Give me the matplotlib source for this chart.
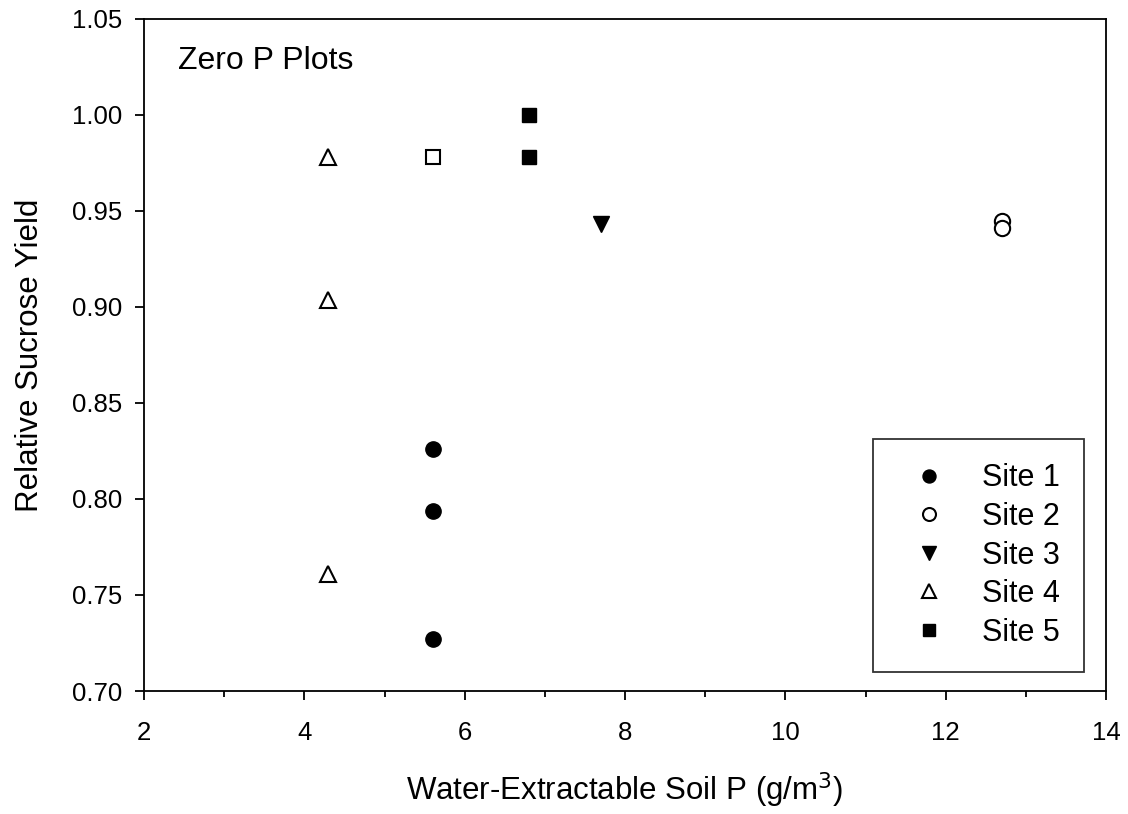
import matplotlib
matplotlib.use("Agg")
import matplotlib.pyplot as plt
from matplotlib.ticker import MultipleLocator, FormatStrFormatter

plt.rcParams['font.family'] = ['Liberation Sans', 'DejaVu Sans']

site1_x = [5.6, 5.6, 5.6]
site1_y = [0.826, 0.794, 0.727]
site2_x = [12.7, 12.7]
site2_y = [0.945, 0.941]
site3_x = [7.7]
site3_y = [0.943]
site4_x = [4.3, 4.3, 4.3]
site4_y = [0.978, 0.9035, 0.761]
site5_x = [6.8, 6.8]
site5_y = [1.000, 0.978]
extra_x = [5.6]
extra_y = [0.978]

fig = plt.figure(figsize=(11.28, 8.14), dpi=100)
ax = fig.add_axes([0.1277, 0.1511, 0.8528, 0.8256])

ms = 11
ax.plot(site1_x, site1_y, 'o', color='black', ms=ms, ls='none', label='Site 1')
ax.plot(site2_x, site2_y, 'o', mfc='white', mec='black', mew=1.5, ms=ms, ls='none', label='Site 2')
ax.plot(site3_x, site3_y, 'v', color='black', ms=ms + 1, ls='none', label='Site 3')
ax.plot(site4_x, site4_y, '^', mfc='white', mec='black', mew=1.5, ms=ms + 1, ls='none', label='Site 4')
ax.plot(site5_x, site5_y, 's', color='black', ms=ms - 0.5, ls='none', label='Site 5')
ax.plot(extra_x, extra_y, 's', mfc='white', mec='black', mew=1.5, ms=ms - 0.5, ls='none')

ax.set_xlim(2, 14)
ax.set_ylim(0.70, 1.05)
ax.xaxis.set_major_locator(MultipleLocator(2))
ax.xaxis.set_minor_locator(MultipleLocator(1))
ax.yaxis.set_major_locator(MultipleLocator(0.05))
ax.yaxis.set_major_formatter(FormatStrFormatter('%.2f'))

for s in ax.spines.values():
    s.set_linewidth(1.3)
ax.tick_params(axis='both', which='major', direction='out', length=6.5, width=1.3,
               labelsize=18.5, top=False, right=False)
ax.tick_params(axis='x', which='major', pad=15)
ax.tick_params(axis='y', which='major', pad=9.5)
ax.tick_params(axis='x', which='minor', direction='out', length=4.3, width=1.3, top=False)

ax.set_xlabel('Water-Extractable Soil P (g/m$^3$)', fontsize=22.5)
ax.set_ylabel('Relative Sucrose Yield', fontsize=22.5)
ax.xaxis.set_label_coords(0.5, -0.1622)
ax.xaxis.label.set_va('baseline')
ax.yaxis.set_label_coords(-0.1102, 0.5)
ax.yaxis.label.set_va('baseline')

ax.text(0.035, 0.937, 'Zero P Plots', transform=ax.transAxes, fontsize=23,
        ha='left', va='center')

leg = ax.legend(loc='upper left', bbox_to_anchor=(0.7578, 0.375), borderaxespad=0,
                fontsize=22, frameon=True, fancybox=False, edgecolor='black',
                handletextpad=0.72, labelspacing=0.28, borderpad=0.8, markerscale=0.85,
                handlelength=2.05)
leg.get_frame().set_linewidth(1.3)

fig.savefig('out.png', dpi=100)
